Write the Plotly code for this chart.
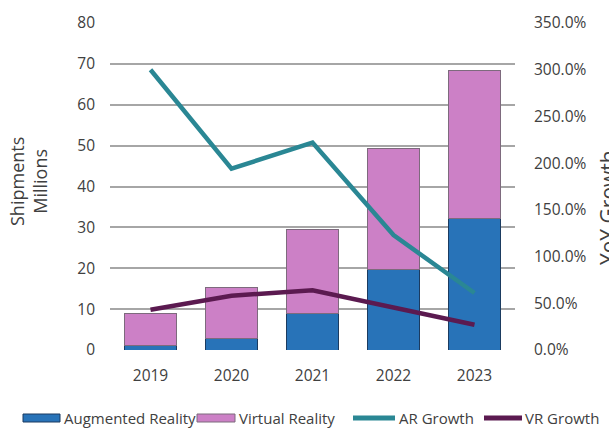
import plotly.graph_objects as go

# Shipments (millions) and year-over-year growth
years = ["2019", "2020", "2021", "2022", "2023"]
ar_shipments = [1.0, 2.9, 9.0, 19.8, 32.2]
vr_shipments = [8.0, 12.4, 20.5, 29.6, 36.3]
ar_growth = [3.00, 1.94, 2.22, 1.23, 0.61]
vr_growth = [0.43, 0.58, 0.64, 0.45, 0.27]

left_ticks = [0, 10, 20, 30, 40, 50, 60, 70, 80]
right_ticks = [0.0, 0.5, 1.0, 1.5, 2.0, 2.5, 3.0, 3.5]

AR_BLUE = "#2873b8"
VR_PINK = "#cc80c6"
AR_LINE = "#2a8794"
VR_LINE = "#5b1a50"
TEXT = "#404040"
FONT = "Open Sans"

fig = go.Figure()

fig.add_trace(go.Bar(
    x=years, y=ar_shipments, name="Augmented Reality",
    marker=dict(color=AR_BLUE, line=dict(color="#1b3b60", width=1)),
))
fig.add_trace(go.Bar(
    x=years, y=vr_shipments, name="Virtual Reality",
    marker=dict(color=VR_PINK, line=dict(color="#7d6a7d", width=1)),
))
fig.add_trace(go.Scatter(
    x=years, y=ar_growth, name="AR Growth", yaxis="y2", mode="lines",
    line=dict(color=AR_LINE, width=4.5),
))
fig.add_trace(go.Scatter(
    x=years, y=vr_growth, name="VR Growth", yaxis="y2", mode="lines",
    line=dict(color=VR_LINE, width=4.5),
))

# Plot area in pixels: x 110..515, y 23..350
L, R, T, B = 110, 94, 23, 78
W, H = 609, 428
PW, PH = W - L - R, H - T - B


def px(x):
    return (x - L) / PW


def py(y):
    return (H - B - y) / PH


shapes = []
annotations = []

# Legend row drawn as shapes and labels
legend_y = 418
legend_items = [
    ("rect", 23, 60, AR_BLUE, "#1b3b60", "Augmented Reality", 62),
    ("rect", 197, 235, VR_PINK, "#7d6a7d", "Virtual Reality", 237),
    ("line", 353, 395, AR_LINE, None, "AR Growth", 397),
    ("line", 484, 522, VR_LINE, None, "VR Growth", 523),
]
for kind, x0, x1, color, edge, label, tx in legend_items:
    if kind == "rect":
        shapes.append(dict(
            type="rect", xref="paper", yref="paper",
            x0=px(x0), x1=px(x1), y0=py(legend_y + 4), y1=py(legend_y - 4),
            fillcolor=color, line=dict(color=edge, width=1),
        ))
    else:
        shapes.append(dict(
            type="line", xref="paper", yref="paper",
            x0=px(x0), x1=px(x1), y0=py(legend_y), y1=py(legend_y),
            line=dict(color=color, width=5),
        ))
    annotations.append(dict(
        text=label, xref="paper", yref="paper", x=px(tx), y=py(legend_y),
        xanchor="left", yanchor="middle", showarrow=False,
        font=dict(family=FONT, size=15, color=TEXT),
    ))

# Axis titles
annotations.append(dict(
    text="Shipments<br>Millions", xref="paper", yref="paper",
    x=px(28), y=py(182), xanchor="center", yanchor="middle",
    textangle=-90, showarrow=False,
    font=dict(family=FONT, size=18, color=TEXT),
))
annotations.append(dict(
    text="YoY Growth", xref="paper", yref="paper",
    x=px(592), y=py(208), xanchor="left", yanchor="middle",
    textangle=-90, showarrow=False,
    font=dict(family=FONT, size=21, color=TEXT),
))

fig.update_layout(
    width=W, height=H,
    margin=dict(l=L, r=R, t=T, b=B, pad=0),
    paper_bgcolor="white", plot_bgcolor="white",
    barmode="stack", bargap=0.37,
    showlegend=False,
    font=dict(family=FONT, size=15.5, color=TEXT),
    xaxis=dict(
        type="category", showgrid=False, showline=False, zeroline=False,
        ticks="", ticklabelstandoff=14,
        tickfont=dict(family=FONT, size=15.5, color=TEXT),
    ),
    yaxis=dict(
        range=[0, 80], tickvals=left_ticks, showgrid=True,
        gridcolor="#a6a6a6", gridwidth=1.5, zeroline=False, showline=False,
        ticks="", ticklabelstandoff=14,
        tickfont=dict(family=FONT, size=15.5, color=TEXT),
    ),
    yaxis2=dict(
        range=[0, 3.5], tickvals=right_ticks, tickformat=".1%",
        overlaying="y", side="right", showgrid=False, zeroline=False,
        showline=False, ticks="", ticklabelstandoff=18,
        tickfont=dict(family=FONT, size=15.5, color=TEXT),
    ),
    shapes=shapes,
    annotations=annotations,
)

fig.write_html("out.html")
